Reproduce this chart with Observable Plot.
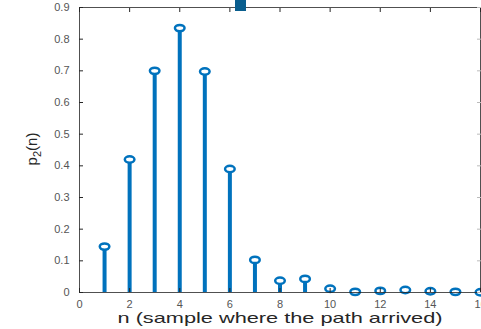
<!DOCTYPE html>
<html><head><meta charset="utf-8">
<script src="https://cdn.jsdelivr.net/npm/d3@7"></script>
<script src="https://cdn.jsdelivr.net/npm/@observablehq/plot@0.6"></script>
<style>
body{margin:0;background:#fff;}
#wrap{position:relative;width:481px;height:329px;overflow:hidden;}
#sq{position:absolute;left:235px;top:0px;width:11px;height:11px;background:#0a5e8e;}
</style>
</head><body>
<div id="wrap"><div id="sq"></div></div>
<script>
const n = [1,2,3,4,5,6,7,8,9,10,11,12,13,14,15,16];
const p2 = [0.145,0.42,0.70,0.835,0.698,0.39,0.103,0.037,0.043,0.012,0.002,0.005,0.008,0.004,0.002,0.001];
const xTicks = [0,2,4,6,8,10,12,14,16];
const yTicks = [0,0.1,0.2,0.3,0.4,0.5,0.6,0.7,0.8,0.9];
const data = n.map((v,i)=>({n:v,p:p2[i]}));
const col = "#0072BD";
const chart = Plot.plot({
  width: 481, height: 329,
  marginLeft: 79, marginRight: 1, marginTop: 7, marginBottom: 37,
  style: {fontFamily: "Liberation Sans, Arial, sans-serif", fontSize: "11px", color: "#555", background: "#fff"},
  x: {domain: [0,16]},
  y: {domain: [0,0.9]},
  marks: [
    Plot.ruleX(data, {x: "n", y1: 0, y2: "p", stroke: col, strokeWidth: 4}),
    Plot.dot(data, {x: "n", y: "p", r: 3.2, stroke: col, strokeWidth: 2.5, fill: "#fff", className: "stemdot"}),
    Plot.frame({stroke: "#262626", strokeWidth: 0.8}),
    Plot.axisX({ticks: xTicks, tickSize: -4, tickPadding: 12, label: null, tickFormat: d=>String(d), stroke:"#262626"}),
    Plot.axisX({ticks: xTicks, anchor: "top", tickSize: -4, text: null, label: null, stroke:"#262626"}),
    Plot.axisY({ticks: yTicks, tickSize: -4, tickPadding: 14, label: null, tickFormat: d=>d===0?"0":d.toFixed(1), stroke:"#262626"}),
    Plot.axisY({ticks: yTicks, anchor: "right", tickSize: -4, text: null, label: null, stroke:"#bbb"})
  ]
});
document.getElementById("wrap").prepend(chart);
const svg = d3.select(chart);
svg.selectAll("g.stemdot circle").each(function(){
  const c = d3.select(this);
  let cx = +c.attr("cx") || 0, cy = +c.attr("cy") || 0;
  const t = c.attr("transform");
  if (t) { const m = /translate\(([-\d.]+),([-\d.]+)\)/.exec(t); if (m) { cx += +m[1]; cy += +m[2]; } }
  c.attr("cx", null).attr("cy", null)
   .attr("transform", `translate(${cx},${cy}) scale(1.5,1)`)
   .attr("vector-effect", "non-scaling-stroke");
});
svg.append("text").attr("x", 280).attr("y", 323).attr("text-anchor","middle")
  .attr("font-size", 15).attr("fill","#262626").attr("font-family","Liberation Sans, Arial, sans-serif")
  .attr("textLength", 325).attr("lengthAdjust", "spacingAndGlyphs")
  .text("n (sample where the path arrived)");
const yl = svg.append("text").attr("transform","translate(37,149) rotate(-90)").attr("text-anchor","middle")
  .attr("font-size", 15).attr("fill","#262626").attr("font-family","Liberation Sans, Arial, sans-serif");
yl.append("tspan").text("p");
yl.append("tspan").attr("font-size",11).attr("dy",4).text("2");
yl.append("tspan").attr("dy",-4).text("(n)");
</script>
</body></html>
